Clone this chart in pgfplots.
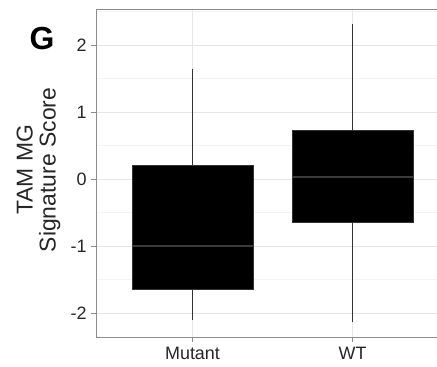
\documentclass[border=0pt]{standalone}
\usepackage{fontspec}
\setmainfont{Liberation Sans}
\usepackage{pgfplots}
\pgfplotsset{compat=1.18}
\usepgfplotslibrary{statistics}
\definecolor{gridmaj}{HTML}{E6E6E6}
\definecolor{gridmin}{HTML}{F4F4F4}
\definecolor{axgray}{HTML}{8C8C8C}
\definecolor{boxedge}{HTML}{333333}
\definecolor{medcol}{HTML}{3A3A3A}
\begin{document}
\begin{tikzpicture}
\useasboundingbox (-96bp,-30bp) rectangle (341bp,337bp);
\begin{axis}[
  scale only axis,
  width=343bp, height=328bp,
  xmin=0.397, xmax=2.54,
  ymin=-2.358, ymax=2.537,
  xtick={1,2}, xticklabels={Mutant,WT},
  ytick={-2,-1,0,1,2},
  minor ytick={-1.5,-0.5,0.5,1.5,2.5},
  grid=both,
  major grid style={gridmaj, line width=0.8pt},
  minor grid style={gridmin, line width=0.6pt},
  axis line style={axgray, line width=0.8pt},
  tick align=outside,
  major tick length=5bp,
  minor tick length=0pt,
  tick style={axgray, line width=0.8pt},
  xtick pos=bottom, ytick pos=left,
  /pgf/number format/assume math mode=true,
  ticklabel style={font=\fontsize{18}{18}\selectfont, text=black!85},
  yticklabel style={xshift=-1bp},
  xticklabel style={yshift=-2bp},
  ylabel={TAM MG\\Signature Score},
  ylabel style={at={(axis description cs:0,0.5)}, anchor=center, yshift=57.5bp, xshift=3bp, align=center, font=\fontsize{23}{23}\selectfont, text=black!85},
  clip=false,
  boxplot/draw direction=y,
]
\addplot+[boxplot prepared={
    median=-0.995, upper quartile=0.20, lower quartile=-1.65,
    upper whisker=1.64, lower whisker=-2.11, box extend=0.756,
    whisker extend=0, draw position=1,
    every whisker/.style={boxedge, line width=0.9pt},
    every median/.style={medcol, line width=1.8pt},
    every box/.style={draw=boxedge, fill=black, line width=1pt}},
  solid, mark=none, draw=boxedge] coordinates {};
\addplot+[boxplot prepared={
    median=0.03, upper quartile=0.73, lower quartile=-0.65,
    upper whisker=2.31, lower whisker=-2.13, box extend=0.756,
    whisker extend=0, draw position=2,
    every whisker/.style={boxedge, line width=0.9pt},
    every median/.style={medcol, line width=1.8pt},
    every box/.style={draw=boxedge, fill=black, line width=1pt}},
  solid, mark=none, draw=boxedge] coordinates {};
\end{axis}
\node[font=\bfseries\fontsize{32}{32}\selectfont] at (-54bp,298.5bp) {G};
\end{tikzpicture}
\end{document}
